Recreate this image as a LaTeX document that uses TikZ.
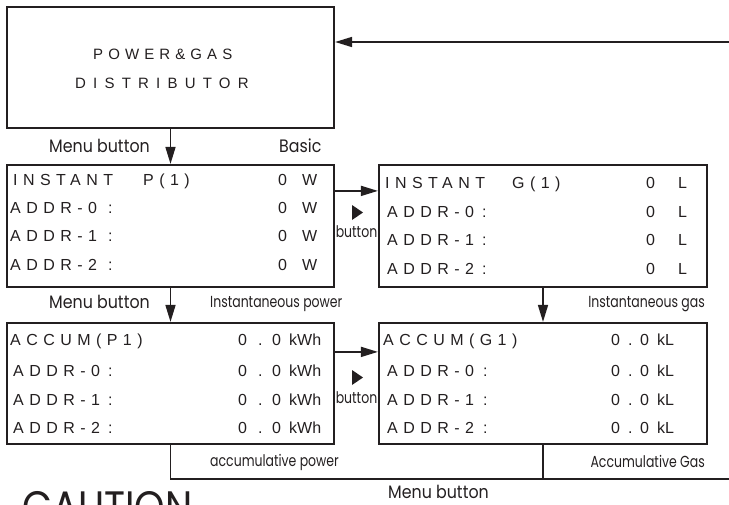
\documentclass[tikz,border=0pt]{standalone}
\usepackage{fontspec}
\usetikzlibrary{arrows.meta}
\newfontfamily\lcdfont[LetterSpace=34]{Liberation Sans}
\newfontfamily\widefont[LetterSpace=48]{Liberation Sans}
\newfontfamily\plainfont{Liberation Sans}
\newfontfamily\labfont[FakeStretch=0.88]{Poppins}
\newfontfamily\narfont[FakeStretch=0.78]{Poppins}
\definecolor{ink}{HTML}{231F20}
\begin{document}
\begin{tikzpicture}[x=1pt,y=-1pt,
  panel/.style={draw=ink, line width=2.2pt, inner sep=0pt},
  lcd/.style={font=\lcdfont\fontsize{16}{16}\selectfont, inner sep=0pt, anchor=base west, text=ink},
  val/.style={font=\plainfont\fontsize{16}{16}\selectfont, inner sep=0pt, anchor=base west, text=ink},
  lab/.style={font=\labfont\fontsize{18}{18}\selectfont, inner sep=0pt, text=ink},
  nar/.style={font=\narfont\fontsize{16}{16}\selectfont, inner sep=0pt, text=ink},
  arr/.style={draw=ink, line width=1.6pt, -{Triangle[length=17pt,width=10pt]}},
  bus/.style={draw=ink, line width=1.4pt}]
\useasboundingbox (0,0) rectangle (729,504);

% panels
\node[panel, minimum width=327pt, minimum height=121pt] (dist) at (170.5,67.5) {};
\node[panel, minimum width=327pt, minimum height=122pt] (p1) at (170.5,226) {};
\node[panel, minimum width=328pt, minimum height=122pt] (g1) at (543,226) {};
\node[panel, minimum width=327pt, minimum height=121pt] (a1) at (170.5,383.5) {};
\node[panel, minimum width=328pt, minimum height=121pt] (a2) at (543,383.5) {};

% distributor title
\node[font=\lcdfont\fontsize{15}{15}\selectfont, inner sep=0pt, text=ink, anchor=base west] (t1) at (93,59) {POWER\&GAS};
\node[font=\widefont\fontsize{15}{15}\selectfont, inner sep=0pt, text=ink, anchor=base west] (t2) at (75,88) {DISTRIBUTOR};

% instantaneous power panel
\node[lcd] (p1h) at (13,185) {INSTANT};
\node[lcd] (p1k) at (143,185) {P(1)};
\foreach \i/\yy in {0/213,1/241,2/270}{
  \node[lcd] (p1a\i) at (10,\yy) {ADDR-\i};
  \node[lcd] (p1c\i) at (108,\yy) {:};
}
\foreach \i/\yy in {0/185,1/213,2/241,3/270}{
  \node[val] (p1v\i) at (278,\yy) {0};
  \node[val] (p1u\i) at (302,\yy) {W};
}

% instantaneous gas panel
\node[lcd] (g1h) at (385,188) {INSTANT};
\node[lcd] (g1k) at (512,188) {G(1)};
\foreach \i/\yy in {0/217,1/245,2/274}{
  \node[lcd] (g1a\i) at (387,\yy) {ADDR-\i};
  \node[lcd] (g1c\i) at (482,\yy) {:};
}
\foreach \i/\yy in {0/188,1/217,2/245,3/274}{
  \node[val] (g1v\i) at (646,\yy) {0};
  \node[val] (g1u\i) at (678,\yy) {L};
}

% accumulative power panel
\node[lcd] (a1h) at (10,345) {ACCUM(P1)};
\foreach \i/\yy in {0/376,1/405,2/433}{
  \node[lcd] (a1a\i) at (13,\yy) {ADDR-\i};
  \node[lcd] (a1c\i) at (108,\yy) {:};
}
\foreach \i/\yy in {0/345,1/376,2/405,3/433}{
  \node[val] (a1v\i) at (238,\yy) {0};
  \node[val] (a1d\i) at (258,\yy) {.};
  \node[val] (a1w\i) at (272,\yy) {0};
  \node[val] (a1u\i) at (289,\yy) {kWh};
}

% accumulative gas panel
\node[lcd] (a2h) at (383,345) {ACCUM(G1)};
\foreach \i/\yy in {0/376,1/405,2/433}{
  \node[lcd] (a2a\i) at (387,\yy) {ADDR-\i};
  \node[lcd] (a2c\i) at (483,\yy) {:};
}
\foreach \i/\yy in {0/345,1/376,2/405,3/433}{
  \node[val] (a2v\i) at (611,\yy) {0};
  \node[val] (a2d\i) at (628,\yy) {.};
  \node[val] (a2w\i) at (640,\yy) {0};
  \node[val] (a2u\i) at (657,\yy) {kL};
}

% captions
\node[lab, anchor=base west] (m1) at (49,152) {Menu button};
\node[lab, anchor=base west] (basic) at (279,152) {Basic};
\node[lab, anchor=base west] (m2) at (49,308) {Menu button};
\node[nar, anchor=base west] (ip) at (210,307) {Instantaneous power};
\node[nar, anchor=base east] (ig) at (705,307) {Instantaneous gas};
\node[nar, anchor=base west] (ap) at (210,466) {accumulative power};
\node[nar, anchor=base east] (ag) at (705,467) {Accumulative Gas};
\node[lab, anchor=base west] (m3) at (388,498) {Menu button};
\node[font=\labfont\fontsize{44}{44}\selectfont, inner sep=0pt, anchor=base west, text=ink] (caution) at (22,522) {CAUTION};
\node[nar, anchor=base] (b1) at (356.5,237) {button};
\node[nar, anchor=base] (b2) at (356.5,403) {button};

% right-pointing button marks
\fill[ink] (352,205) -- (363,212.5) -- (352,220) -- cycle;
\fill[ink] (352,370) -- (363,377.5) -- (352,385) -- cycle;

% connectors
\coordinate (ret) at (729,42);
\draw[arr] (ret) -- (ret -| dist.east);
\draw[arr] (dist.south) -- (p1.north);
\draw[arr] (p1.south) -- (a1.north);
\draw[arr] (g1.south) -- (a2.north);
\draw[arr] ([yshift=-27pt]p1.north east) -- ([yshift=-27pt]g1.north west);
\draw[arr] ([yshift=-30pt]a1.north east) -- ([yshift=-30pt]a2.north west);

\coordinate (busend) at (729,479);
\draw[bus] (a1.south) -- (a1.south |- busend) -- (busend);
\draw[bus] (a2.south) -- (a2.south |- busend);
\end{tikzpicture}
\end{document}
